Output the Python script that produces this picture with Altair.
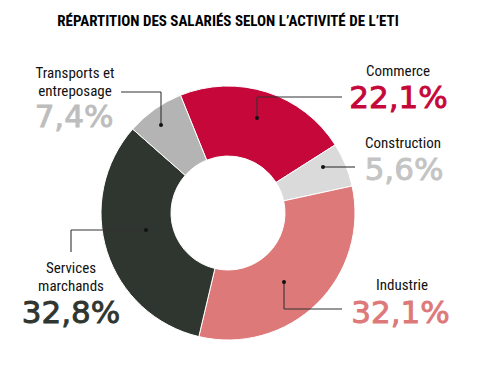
import math
import altair as alt
import pandas as pd

# ---- data ----
categories = ["Commerce", "Construction", "Industrie", "Services marchands", "Transports et entreposage"]
values = [22.1, 5.6, 32.1, 32.8, 7.4]
value_labels = ["22,1%", "5,6%", "32,1%", "32,8%", "7,4%"]
name_labels = ["Commerce", "Construction", "Industrie", "Services\nmarchands", "Transports et\nentreposage"]
title_text = "RÉPARTITION DES SALARIÉS SELON L’ACTIVITÉ DE L’ETI"

# ---- styles ----
slice_colors = ["#C6073A", "#D9DAD9", "#DE7979", "#2F352F", "#B4B4B4"]
text_colors = ["#C6073A", "#C3C4C3", "#DE7979", "#2F352F", "#BDBDBD"]
NARROW = "Liberation Sans Narrow, Roboto Condensed, DejaVu Sans Condensed, sans-serif"
WIDE = "DejaVu Sans, sans-serif"

# ---- layout ----
W, H = 476, 350
CX, CY = 220, 205
R_OUT, R_IN = 127, 57
START = math.radians(-22)

name_x = [390, 395, 394, 63, 67]
name_y = [68, 140, 282, 265, 70]
pct_x = [390.5, 396, 392.5, 63, 66]
pct_y = [100, 172, 315, 315, 119]
dot_x = [249, 315, 276, 138, 153]
dot_y = [110, 159, 274, 222, 117]
elbow = [  # list of (x, y) points after dot
    [(249, 89), (334, 89)],
    [(347, 159)],
    [(276, 301), (334, 301)],
    [(63, 222), (63, 244)],
    [(153, 84), (113, 84)],
]

df = pd.DataFrame({"cat": categories, "value": values, "idx": list(range(len(values)))})
lab = pd.DataFrame({
    "cat": categories, "name": name_labels, "pct": value_labels,
    "nx": name_x, "ny": name_y, "px": pct_x, "py": pct_y,
    "tcolor": text_colors, "dx": dot_x, "dy": dot_y,
})
segs = []
for i in range(len(categories)):
    pts = [(dot_x[i], dot_y[i])] + elbow[i]
    for (a, b), (c, d) in zip(pts[:-1], pts[1:]):
        segs.append({"x": a, "y": b, "x2": c, "y2": d})
seg_df = pd.DataFrame(segs)
title_df = pd.DataFrame({"t": [title_text], "x": [220], "y": [18]})

xs = alt.Scale(domain=[0, W], range=[0, W])
ys = alt.Scale(domain=[0, H], range=[0, H])

donut = alt.Chart(df).mark_arc(
    x=CX, y=CY, outerRadius=R_OUT, innerRadius=R_IN, stroke="white", strokeWidth=1
).encode(
    theta=alt.Theta("value:Q", stack=True, scale=alt.Scale(range=[START, START + 2 * math.pi])),
    color=alt.Color("cat:N", scale=alt.Scale(domain=categories, range=slice_colors), legend=None),
    order=alt.Order("idx:Q"),
)

rules = alt.Chart(seg_df).mark_rule(color="#333333", strokeWidth=1.1).encode(
    x=alt.X("x:Q", scale=xs, axis=None),
    y=alt.Y("y:Q", scale=ys, axis=None),
    x2="x2:Q", y2="y2:Q",
)

dots = alt.Chart(lab).mark_circle(size=16, color="#111111", opacity=1).encode(
    x=alt.X("dx:Q", scale=xs, axis=None),
    y=alt.Y("dy:Q", scale=ys, axis=None),
)

names = alt.Chart(lab).mark_text(
    font=NARROW, fontSize=15, lineBreak="\n", lineHeight=17.5,
    align="center", baseline="alphabetic", color="#111111",
).encode(
    x=alt.X("nx:Q", scale=xs, axis=None),
    y=alt.Y("ny:Q", scale=ys, axis=None),
    text="name:N",
)

pcts = alt.Chart(lab).mark_text(
    font=WIDE, fontSize=31, fontWeight="normal", strokeWidth=0.9,
    align="center", baseline="alphabetic",
).encode(
    x=alt.X("px:Q", scale=xs, axis=None),
    y=alt.Y("py:Q", scale=ys, axis=None),
    text="pct:N",
    color=alt.Color("tcolor:N", scale=None),
    stroke=alt.Stroke("tcolor:N", scale=None),
)

title = alt.Chart(title_df).mark_text(
    font=NARROW, fontSize=15, fontWeight="bold", align="center", baseline="alphabetic", color="#000000",
).encode(
    x=alt.X("x:Q", scale=xs, axis=None),
    y=alt.Y("y:Q", scale=ys, axis=None),
    text="t:N",
)

chart = alt.layer(donut, rules, dots, names, pcts, title).properties(
    width=W, height=H, padding=0, autosize=alt.AutoSizeParams(type="none"),
).configure_view(stroke=None)

chart.save("out.html", embed_options={"renderer": "svg", "actions": False})
